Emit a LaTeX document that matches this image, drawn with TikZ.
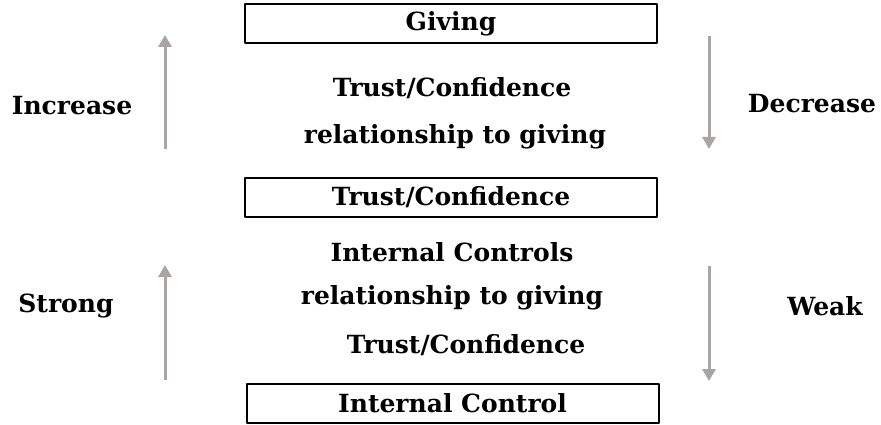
\documentclass[tikz,border=0pt]{standalone}
\usepackage{fontspec}
\setmainfont{DejaVu Serif}
\usetikzlibrary{arrows.meta}
\begin{document}
\begin{tikzpicture}[x=1pt, y=-1pt, font=\bfseries\fontsize{25}{29}\selectfont, line join=round,
    box/.style={draw=black, line width=2pt, minimum width=412pt, minimum height=39pt, inner sep=0pt},
    grayarrow/.style={draw={rgb,255:red,170;green,165;blue,164}, line width=3pt, -{Triangle[width=13pt,length=12pt]}}]
            \useasboundingbox (0,0) rectangle (881,425);
            \node[box] (giving) at (451,24) {Giving};
            \node[box] (trust) at (451,197.5) {Trust/Confidence};
            \node[box] (control) at (452.5,403.5) {Internal Control};
            \node (tc1) at (452,88) {Trust/Confidence};
            \node (rel1) at (455,137) {relationship to giving};
            \node (ic) at (452,252) {Internal Controls};
            \node (rel2) at (452,298) {relationship to giving};
            \node (tc2) at (466,345) {Trust/Confidence};
            \node (inc) at (72,106) {Increase};
            \node (dec) at (812,104) {Decrease};
            \node (strong) at (66,306) {Strong};
            \node (weak) at (825,306) {Weak};
            % arrows
            \coordinate (a1) at (165,149); \coordinate (b1) at (165,35);
            \coordinate (a2) at (709,36);  \coordinate (b2) at (709,149);
            \coordinate (a3) at (165,380); \coordinate (b3) at (165,265);
            \coordinate (a4) at (709,266); \coordinate (b4) at (709,381);
            \draw[grayarrow] (a1) -- (b1);
            \draw[grayarrow] (a2) -- (b2);
            \draw[grayarrow] (a3) -- (b3);
            \draw[grayarrow] (a4) -- (b4);
        \end{tikzpicture}
\end{document}
